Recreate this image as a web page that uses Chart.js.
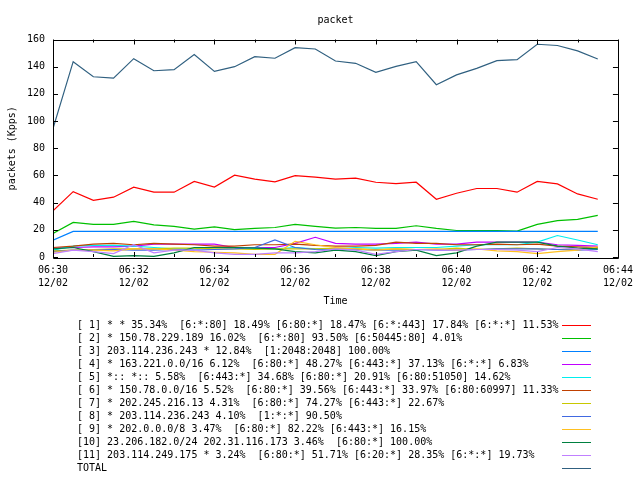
<!DOCTYPE html>
<html>
<head>
<meta charset="utf-8">
<script src="https://cdn.jsdelivr.net/npm/chart.js@4.4.1/dist/chart.umd.min.js"></script>
<style>
  html, body { margin: 0; padding: 0; background: #fff; }
</style>
</head>
<body>
<canvas id="chart" width="640" height="480"></canvas>
<script>
// ── data (Kpps, one sample every 30 s) ──

const times = [
  "06:30:00", "06:30:30", "06:31:00", "06:31:30", "06:32:00", "06:32:30", "06:33:00",
  "06:33:30", "06:34:00", "06:34:30", "06:35:00", "06:35:30", "06:36:00", "06:36:30",
  "06:37:00", "06:37:30", "06:38:00", "06:38:30", "06:39:00", "06:39:30", "06:40:00",
  "06:40:30", "06:41:00", "06:41:30", "06:42:00", "06:42:30", "06:43:00", "06:43:30",
];

const flow1 = [34, 48.1, 41.7, 44, 51.4, 47.7, 47.7, 55.6, 51.4, 60.2, 57.3, 55.3, 59.8, 58.8,
  57.3, 58, 55, 54, 55, 42.5, 46.9, 50.4, 50.4, 47.7, 55.6, 53.8, 46.4, 42.5];
const flow2 = [17.3, 25.4, 24, 24, 26.2, 23.7, 22.5, 20.5, 22.2, 20.2, 21, 21.7, 24, 22.5,
  21.2, 21.7, 21, 21, 23, 21, 19.5, 19.5, 19.5, 19, 24, 26.7, 27.7, 30.6];
const flow3 = [12.3, 18.8, 18.8, 18.8, 18.8, 18.8, 18.8, 18.8, 18.8, 18.8, 18.8, 18.8, 18.8, 18.8,
  18.8, 18.8, 18.8, 18.8, 18.8, 18.8, 18.8, 18.8, 18.8, 18.8, 18.8, 18.8, 18.8, 18.8];
const flow4 = [6.5, 7, 7.5, 7.5, 8, 9.5, 9.5, 9.5, 9.5, 7, 7, 7, 10, 14.5,
  10, 9.5, 9.5, 10, 11, 9.5, 9.5, 11, 11, 11, 11, 9, 8.5, 8];
const flow5 = [5, 8, 8.5, 8.5, 8, 7, 6, 6, 7, 6.5, 6.5, 6, 7, 6,
  6, 7, 6.5, 7, 7, 7, 8, 9, 9, 9, 11, 15.8, 12.5, 9];
const flow6 = [7, 8, 9.5, 10, 9, 10, 9.5, 9, 8, 8, 9, 9, 9.5, 8.5,
  8, 8, 8.5, 11, 10, 10, 9, 9, 9.5, 9, 9.5, 8, 7.5, 7];
const flow7 = [4.5, 5, 5.5, 6, 6, 6, 6.5, 6.5, 6, 6, 5.5, 6, 6, 6,
  6.5, 6, 5.5, 6, 5.5, 5.5, 6.5, 5.5, 6, 6.5, 6, 5.5, 6, 6.5];
const flow8 = [4, 5, 5, 5.5, 5, 5, 5.5, 5, 5.5, 6, 7, 12.5, 7, 5.5,
  5, 5.5, 5, 5, 5.5, 5, 5, 5.5, 6, 6, 6, 5.5, 5, 5.5];
const flow9 = [3.5, 5, 5, 4.5, 6, 6, 5, 4, 3.5, 3, 2, 2, 11.5, 9,
  7, 6, 5, 6, 5.5, 6, 5, 6, 4.5, 4, 2.5, 4, 5, 7.5];
const flow10 = [6, 7, 4, 0.5, 1, 0.5, 3, 7, 7, 7, 6.5, 6, 4, 3,
  5, 4, 1, 4, 5, 1, 3, 8, 11, 11, 11, 8, 6.5, 6];
const flow11 = [2.5, 5, 4, 2.5, 9, 3, 5, 5, 3, 2, 2, 3, 3, 4,
  6, 5, 2, 4, 5.5, 5, 5, 5.5, 5.5, 5, 4, 7, 6, 4];
const total = [94.5, 143.7, 132.6, 131.6, 145.9, 137, 137.8, 148.9, 136.5, 140, 147.4, 146.2, 154, 153,
  144.2, 142.5, 135.8, 140.2, 143.7, 126.7, 134, 138.8, 144.4, 145.2, 156.5, 155.6, 151.6, 145.7];

const seriesLabels = [
  "[ 1] * * 35.34%  [6:*:80] 18.49% [6:80:*] 18.47% [6:*:443] 17.84% [6:*:*] 11.53%",
  "[ 2] * 150.78.229.189 16.02%  [6:*:80] 93.50% [6:50445:80] 4.01%",
  "[ 3] 203.114.236.243 * 12.84%  [1:2048:2048] 100.00%",
  "[ 4] * 163.221.0.0/16 6.12%  [6:80:*] 48.27% [6:443:*] 37.13% [6:*:*] 6.83%",
  "[ 5] *:: *:: 5.58%  [6:443:*] 34.68% [6:80:*] 20.91% [6:80:51050] 14.62%",
  "[ 6] * 150.78.0.0/16 5.52%  [6:80:*] 39.56% [6:443:*] 33.97% [6:80:60997] 11.33%",
  "[ 7] * 202.245.216.13 4.31%  [6:80:*] 74.27% [6:443:*] 22.67%",
  "[ 8] * 203.114.236.243 4.10%  [1:*:*] 90.50%",
  "[ 9] * 202.0.0.0/8 3.47%  [6:80:*] 82.22% [6:443:*] 16.15%",
  "[10] 23.206.182.0/24 202.31.116.173 3.46%  [6:80:*] 100.00%",
  "[11] 203.114.249.175 * 3.24%  [6:80:*] 51.71% [6:20:*] 28.35% [6:*:*] 19.73%",
  "TOTAL",
];
const seriesValues = [flow1, flow2, flow3, flow4, flow5, flow6, flow7, flow8, flow9, flow10, flow11, total];

const xTickLabels = [
  ["06:30", "12/02"], ["06:32", "12/02"], ["06:34", "12/02"], ["06:36", "12/02"],
  ["06:38", "12/02"], ["06:40", "12/02"], ["06:42", "12/02"], ["06:44", "12/02"],
];

// gnuplot default line colours
const COLORS = ["#ff0000", "#00c000", "#0080ff", "#c000ff", "#00eeee", "#c04000",
  "#c8c800", "#4169e1", "#ffc020", "#008040", "#c080ff", "#306080"];

// ── helpers ──

const FONT = { family: "'DejaVu Sans Mono', monospace", size: 10, lineHeight: 1.25 };
const START_MIN = 6 * 60 + 30;

function toMinutes(t) {
  const [h, m, s] = t.split(":").map(Number);
  return h * 60 + m + s / 60 - START_MIN;
}
const xs = times.map(toMinutes);

// gnuplot-style frame: box, inward ticks on all four sides, key below
const gnuplotFrame = {
  id: "gnuplotFrame",
  afterDraw(chart) {
    const { ctx, chartArea: a, scales } = chart;
    const x = scales.x, y = scales.y;
    ctx.save();
    ctx.strokeStyle = "#000";
    ctx.lineWidth = 1;
    ctx.beginPath();
    ctx.rect(Math.round(a.left) + 0.5, Math.round(a.top) + 0.5,
      Math.round(a.right - a.left), Math.round(a.bottom - a.top));

    const majors = x.ticks.map((t) => t.value);
    majors.forEach((v, i) => {
      const px = Math.round(x.getPixelForValue(v)) + 0.5;
      ctx.moveTo(px, a.bottom); ctx.lineTo(px, a.bottom - 5);
      ctx.moveTo(px, a.top); ctx.lineTo(px, a.top + 5);
      if (i < majors.length - 1) {
        const mx = Math.round(x.getPixelForValue((v + majors[i + 1]) / 2)) + 0.5;
        ctx.moveTo(mx, a.bottom); ctx.lineTo(mx, a.bottom - 3);
        ctx.moveTo(mx, a.top); ctx.lineTo(mx, a.top + 3);
      }
    });
    y.ticks.forEach((t) => {
      const py = Math.round(y.getPixelForValue(t.value)) + 0.5;
      ctx.moveTo(a.left, py); ctx.lineTo(a.left + 5, py);
      ctx.moveTo(a.right, py); ctx.lineTo(a.right - 5, py);
    });
    ctx.stroke();

    // key
    ctx.font = `${FONT.size}px ${FONT.family}`;
    ctx.textAlign = "left";
    ctx.textBaseline = "middle";
    chart.data.datasets.forEach((ds, i) => {
      const ly = 325 + i * 13;
      ctx.fillStyle = "#000";
      ctx.fillText(ds.label, 77, ly);
      ctx.strokeStyle = ds.borderColor;
      ctx.beginPath();
      ctx.moveTo(562, ly + 0.5);
      ctx.lineTo(591, ly + 0.5);
      ctx.stroke();
    });
    ctx.restore();
  },
};

new Chart(document.getElementById("chart"), {
  type: "line",
  data: {
    datasets: seriesValues.map((vals, i) => ({
      label: seriesLabels[i],
      data: vals.map((v, j) => ({ x: xs[j], y: v })),
      borderColor: COLORS[i],
      backgroundColor: COLORS[i],
      borderWidth: 1.2,
      pointRadius: 0,
      tension: 0,
      order: seriesValues.length - i,
    })),
  },
  options: {
    responsive: false,
    animation: false,
    layout: { padding: { left: 0, right: 19, top: 0, bottom: 168 } },
    scales: {
      x: {
        type: "linear",
        min: 0,
        max: 14,
        grid: { display: false, drawTicks: false },
        border: { display: false },
        ticks: {
          stepSize: 2,
          autoSkip: false,
          maxRotation: 0,
          padding: 7,
          color: "#000",
          font: { ...FONT, lineHeight: 1.3 },
          callback: (v, i) => xTickLabels[i],
        },
        title: { display: true, text: "Time", color: "#000", font: FONT, padding: { top: 0, bottom: 4 } },
        afterFit: (s) => { s.height = 55; },
      },
      y: {
        min: 0,
        max: 160,
        grid: { display: false, drawTicks: false },
        border: { display: false },
        ticks: { stepSize: 20, padding: 8, color: "#000", font: FONT },
        title: { display: true, text: "packets (Kpps)", color: "#000", font: FONT, padding: { top: 6, bottom: 0 } },
        afterFit: (s) => { s.width = 53; },
      },
    },
    plugins: {
      legend: { display: false },
      tooltip: { enabled: false },
      title: {
        display: true,
        text: "packet",
        color: "#000",
        font: { ...FONT, weight: "normal" },
        fullSize: false,
        padding: { top: 14, bottom: 13 },
      },
    },
  },
  plugins: [gnuplotFrame],
});
</script>
</body>
</html>
